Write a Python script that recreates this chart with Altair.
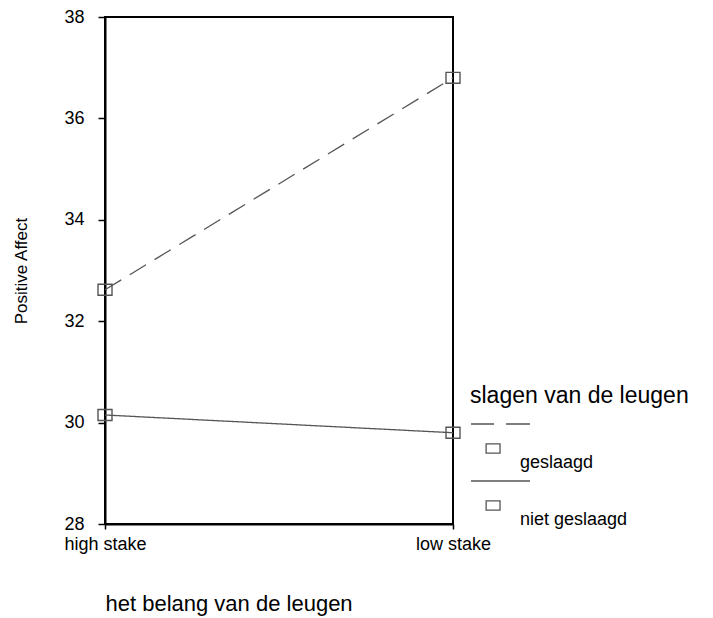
import altair as alt
import pandas as pd

# data
slagen = ["geslaagd", "geslaagd", "niet geslaagd", "niet geslaagd"]
belang = ["high stake", "low stake", "high stake", "low stake"]
affect = [32.62, 36.8, 30.15, 29.8]

groups = ["geslaagd", "niet geslaagd"]
stakes = ["high stake", "low stake"]
y_ticks = [28, 30, 32, 34, 36, 38]
dashes = [[19, 10], [1, 0]]

df = pd.DataFrame({"slagen": slagen, "belang": belang, "affect": affect})

gray = "#555555"
rect_marker = "M-1,-0.78H1V0.78H-1Z"
legend_dashed = "M-1,-1.25H-0.04M0.46,-1.25H1.46M-0.37,-0.42H0.21V-0.04H-0.37Z"
legend_solid = "M-1,-1.25H1.46M-0.37,-0.42H0.21V-0.04H-0.37Z"

x_enc = alt.X(
    "belang:N",
    sort=stakes,
    scale=alt.Scale(type="point", domain=stakes, padding=0),
    axis=alt.Axis(
        title="het belang van de leugen",
        titleFontSize=22,
        titleFontWeight="normal",
        titleAnchor="start",
        titlePadding=40,
        labelAngle=0,
        labelFontSize=18,
        labelPadding=6,
        tickSize=5,
    ),
)
y_enc = alt.Y(
    "affect:Q",
    scale=alt.Scale(domain=[28, 38], nice=False, zero=False),
    axis=alt.Axis(
        title="Positive Affect",
        values=y_ticks,
        titleFontSize=17,
        titleFontWeight="normal",
        titlePadding=33,
        labelFontSize=18,
        labelPadding=14,
        tickSize=7,
        grid=False,
    ),
)

line_layers = [
    alt.Chart(df)
    .transform_filter(alt.datum.slagen == g)
    .mark_line(color=gray, strokeWidth=1.3, strokeDash=d)
    .encode(x=x_enc, y=y_enc)
    for g, d in zip(groups, dashes)
]

points = alt.Chart(df).mark_point(
    shape=rect_marker, size=196, color=gray, filled=False, strokeWidth=1.4, opacity=1
).encode(x=x_enc, y=y_enc)

# legend-only layer: draws nothing (filtered out), keeps the explicit-domain legend
legend_layer = alt.Chart(df).transform_filter("datum.affect < 0").mark_point(
    filled=False, color=gray, opacity=1
).encode(
    x=x_enc,
    y=y_enc,
    shape=alt.Shape(
        "slagen:N",
        scale=alt.Scale(domain=groups, range=[legend_dashed, legend_solid]),
        legend=alt.Legend(
            title="slagen van de leugen",
            orient="none",
            legendX=365,
            legendY=368,
            padding=0,
            titleFontSize=23,
            titleFontWeight="normal",
            titlePadding=21,
            titleLimit=400,
            labelFontSize=18,
            labelBaseline="top",
            labelOffset=0,
            symbolSize=2304,
            symbolOpacity=1,
            symbolStrokeColor=gray,
            symbolFillColor="white",
            symbolStrokeWidth=1.3,
            rowPadding=6,
        ),
    ),
)

chart = (
    alt.layer(*line_layers, points, legend_layer)
    .properties(width=348, height=507, padding={"left": 4, "top": 0, "right": 5, "bottom": 3})
    .configure(font="Liberation Sans")
    .configure_view(stroke="black", strokeWidth=2)
    .configure_axis(
        domainColor="black",
        domainWidth=2,
        tickColor="black",
        tickWidth=1.5,
        labelColor="black",
        titleColor="black",
        labelFont="Liberation Sans",
        titleFont="Liberation Sans",
    )
    .configure_legend(labelFont="Liberation Sans", titleFont="Liberation Sans", labelColor="black", titleColor="black")
)

chart.save("out.html", embed_options={"renderer": "svg", "actions": False})
